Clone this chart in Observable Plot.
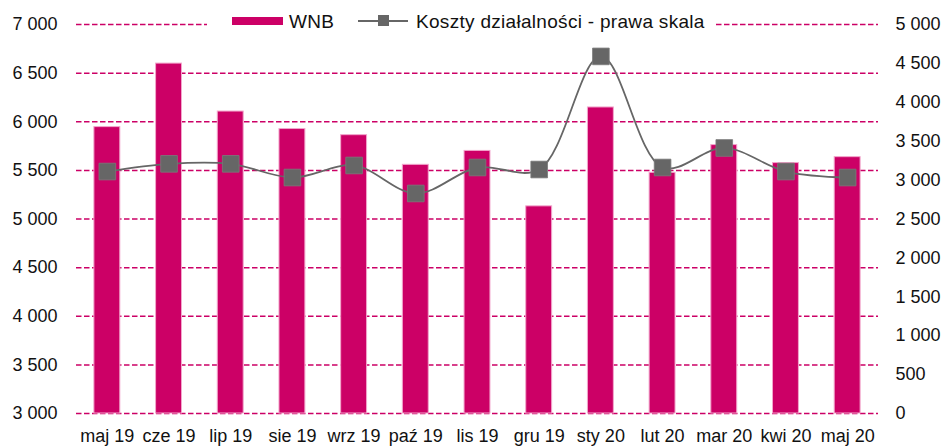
<!DOCTYPE html>
<html>
<head>
<meta charset="utf-8">
<script src="https://cdn.jsdelivr.net/npm/d3@7"></script>
<script src="https://cdn.jsdelivr.net/npm/@observablehq/plot@0.6"></script>
<style>
  html, body { margin: 0; padding: 0; background: #fff; }
  #wrap { position: relative; width: 942px; height: 448px; font-family: "Liberation Sans", Arial, sans-serif; }
  #legend { position: absolute; top: 8px; left: 207px; width: 508px; height: 28px; background: #fff; font-size: 19px; color: #111; }
  #legend > * { position: absolute; }
  .sw-bar { left: 25px; top: 9px; width: 51px; height: 8px; background: #CC0066; }
  .t1 { left: 82px; top: 3px; white-space: nowrap; letter-spacing: 0.3px; }
  .sw-line { left: 151px; top: 12px; width: 50px; height: 2px; background: #666; }
  .sw-sq { left: 171px; top: 7px; width: 11px; height: 11px; background: #666; }
  .t2 { left: 209px; top: 3px; white-space: nowrap; letter-spacing: 0.3px; }
</style>
</head>
<body>
<div id="wrap">
  <div id="chart"></div>
  <div id="legend"><span class="sw-bar"></span><span class="t1">WNB</span><span class="sw-line"></span><span class="sw-sq"></span><span class="t2">Koszty działalności - prawa skala</span></div>
</div>
<script>
const months = ["maj 19","cze 19","lip 19","sie 19","wrz 19","paź 19","lis 19","gru 19","sty 20","lut 20","mar 20","kwi 20","maj 20"];
const wnb = [5945, 6598, 6105, 5925, 5862, 5557, 5700, 5130, 6147, 5475, 5760, 5575, 5636];
const koszty = [3110, 3209, 3209, 3033, 3188, 2828, 3162, 3136, 4590, 3162, 3413, 3110, 3033];
const leftTicks = [3000, 3500, 4000, 4500, 5000, 5500, 6000, 6500, 7000];
const rightTicks = [0, 500, 1000, 1500, 2000, 2500, 3000, 3500, 4000, 4500, 5000];

const L0 = 3000, L1 = 7000, R1 = 5000;
const toLeft = v => L0 + v * (L1 - L0) / R1;
const fmt = d => d3.format(",")(d).replace(/,/g, " ");

const data = months.map((m, i) => ({month: m, wnb: wnb[i], koszty: koszty[i]}));

const chart = Plot.plot({
  width: 942,
  height: 448,
  marginLeft: 76,
  marginRight: 64,
  marginTop: 24,
  marginBottom: 35,
  style: {fontFamily: "Liberation Sans, Arial, sans-serif", fontSize: "18px", color: "#111", background: "#fff"},
  x: {domain: months, paddingInner: 0.58, paddingOuter: 0.29, round: false, label: null},
  y: {domain: [L0, L1], label: null},
  marks: [
    Plot.ruleY(leftTicks, {stroke: "#CC0066", strokeWidth: 1.5, strokeDasharray: "5.5,2.5"}),
    Plot.barY(data, {x: "month", y1: L0, y2: "wnb", fill: "#CC0066", stroke: "#F2A6CC", strokeWidth: 1}),
    Plot.line(data, {x: "month", y: d => toLeft(d.koszty), stroke: "#666666", strokeWidth: 1.8, curve: "catmull-rom"}),
    Plot.dot(data, {x: "month", y: d => toLeft(d.koszty), symbol: "square", r: 9.4, fill: "#666666", stroke: "#7a7a7a", strokeWidth: 0.8}),
    Plot.axisX({tickSize: 0, tickPadding: 16, label: null}),
    Plot.axisY(leftTicks, {anchor: "left", tickSize: 0, tickPadding: 19, tickFormat: fmt, label: null}),
    Plot.axisY(rightTicks.map(toLeft), {anchor: "right", tickSize: 0, tickPadding: 17, tickFormat: (d, i) => fmt(rightTicks[i]), label: null})
  ]
});
document.getElementById("chart").appendChild(chart);
</script>
</body>
</html>
